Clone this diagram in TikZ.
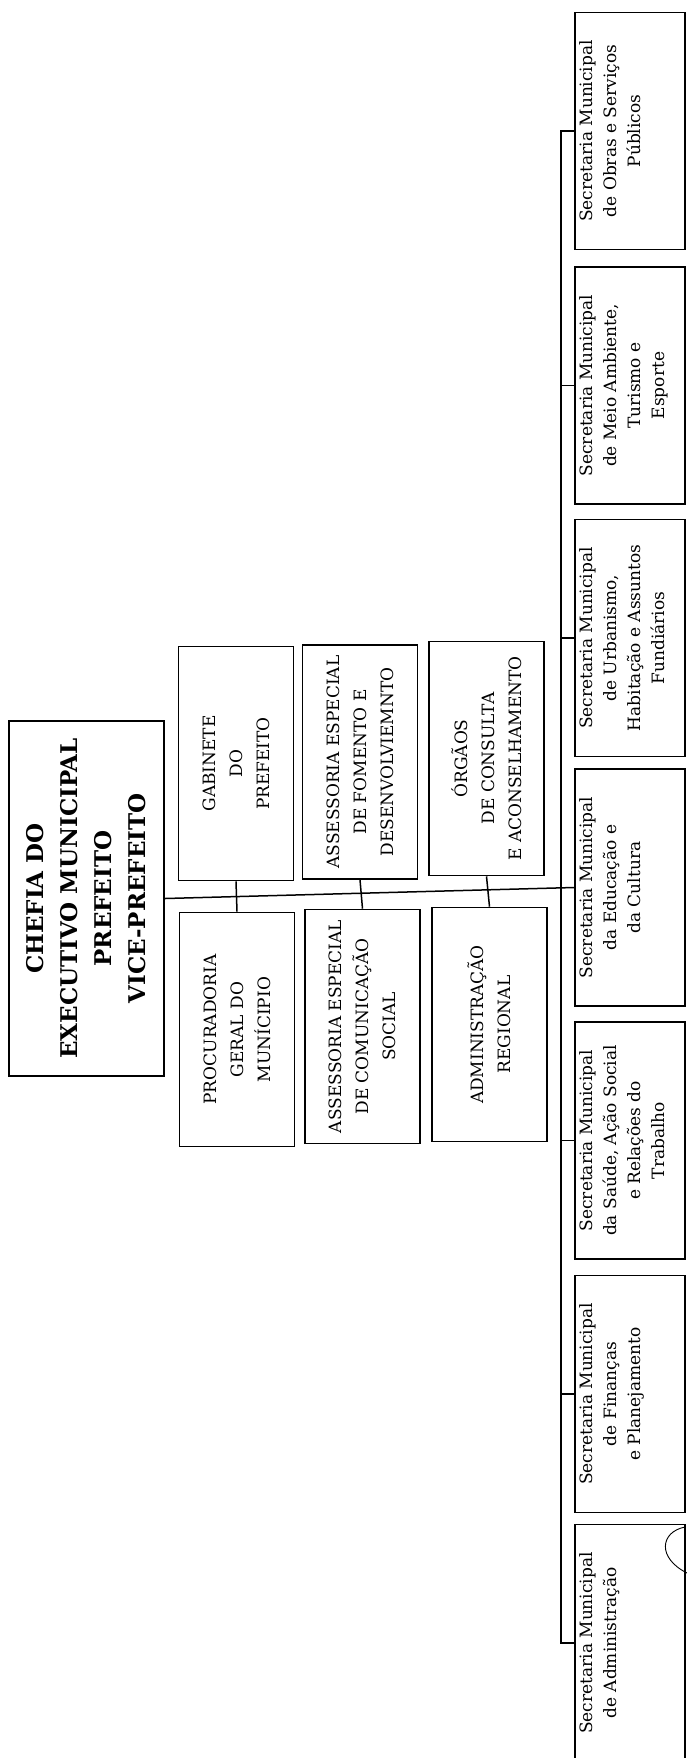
\documentclass[tikz,border=0pt]{standalone}
\usepackage{fontspec}
\setmainfont{DejaVu Serif}
\usepackage{tikz}
\usetikzlibrary{positioning,calc}
\newcommand{\sectxt}[1]{\parbox[c][110pt][t]{237pt}{\centering\vspace*{5pt}#1}}

\begin{document}
\begin{tikzpicture}[x=1pt,y=1pt,
  box/.style={draw,line width=1.6pt,rotate=90,inner sep=0pt,align=center},
  chefbox/.style={box,line width=2.2pt,minimum width=355pt,minimum height=155pt,font=\fontsize{23}{34}\selectfont\bfseries},
  midbox/.style={box,minimum width=234pt,minimum height=115pt,font=\fontsize{17}{27}\selectfont},
  secbox/.style={box,minimum width=237pt,minimum height=110pt,font=\fontsize{17}{24}\selectfont},
  link/.style={line width=1.5pt}]
\useasboundingbox (0,0) rectangle (687,-1758);
% chefia
\node[chefbox] (chefia) at (86.5,-898.5) {CHEFIA DO\\EXECUTIVO MUNICIPAL\\PREFEITO\\VICE-PREFEITO};
% orgaos de assessoria
\node[midbox] (gab) at (236,-763.5) {GABINETE\\DO\\PREFEITO};
\node[midbox] (proc) at (237,-1029.5) {PROCURADORIA\\GERAL DO\\MUNÍCIPIO};
\node[midbox] (fom) at (360,-762) {ASSESSORIA ESPECIAL\\DE FOMENTO E\\DESENVOLVIEMNTO};
\node[midbox] (com) at (362.5,-1026.5) {ASSESSORIA ESPECIAL\\DE COMUNICAÇÃO\\SOCIAL};
\node[midbox] (org) at (486.5,-758.5) {ÓRGÃOS\\DE CONSULTA\\E ACONSELHAMENTO};
\node[midbox] (adr) at (489.5,-1024.5) {ADMINISTRAÇÃO\\REGIONAL};
% secretarias
\node[secbox] (obras) at (630,-131) {\sectxt{Secretaria Municipal\\de Obras e Serviços\\Públicos}};
\node[secbox] (meio) at (630,-385.5) {\sectxt{Secretaria Municipal\\de Meio Ambiente,\\Turismo e\\Esporte}};
\node[secbox] (urb) at (630,-638) {\sectxt{Secretaria Municipal\\de Urbanismo,\\Habitação e Assuntos\\Fundiários}};
\node[secbox] (edu) at (630,-887.5) {\sectxt{Secretaria Municipal\\da Educação e\\da Cultura}};
\node[secbox] (saude) at (630,-1140.5) {\sectxt{Secretaria Municipal\\da Saúde, Ação Social\\e Relações do\\Trabalho}};
\node[secbox] (fin) at (630,-1394) {\sectxt{Secretaria Municipal\\de Finanças\\e Planejamento}};
\node[secbox] (adm) at (630,-1643) {\sectxt{Secretaria Municipal\\de Administração}};
\coordinate (sp) at (561,0);
% ligacoes
\path[link]
(chefia.south) edge (edu.north)
(gab.west) edge (proc.east)
(fom.west) edge (com.east)
(org.west) edge (adr.east);
\draw[link] (obras.north) -- (sp |- obras.north) -- (sp |- adm.north) -- (adm.north);
\foreach \s in {meio,urb,saude,fin}
  \draw[link] (sp |- \s.north) -- (\s.north);
\draw[line width=0.9pt] (685,-1527) .. controls (660,-1532) and (657,-1558) .. (687,-1573);
\end{tikzpicture}
\end{document}
